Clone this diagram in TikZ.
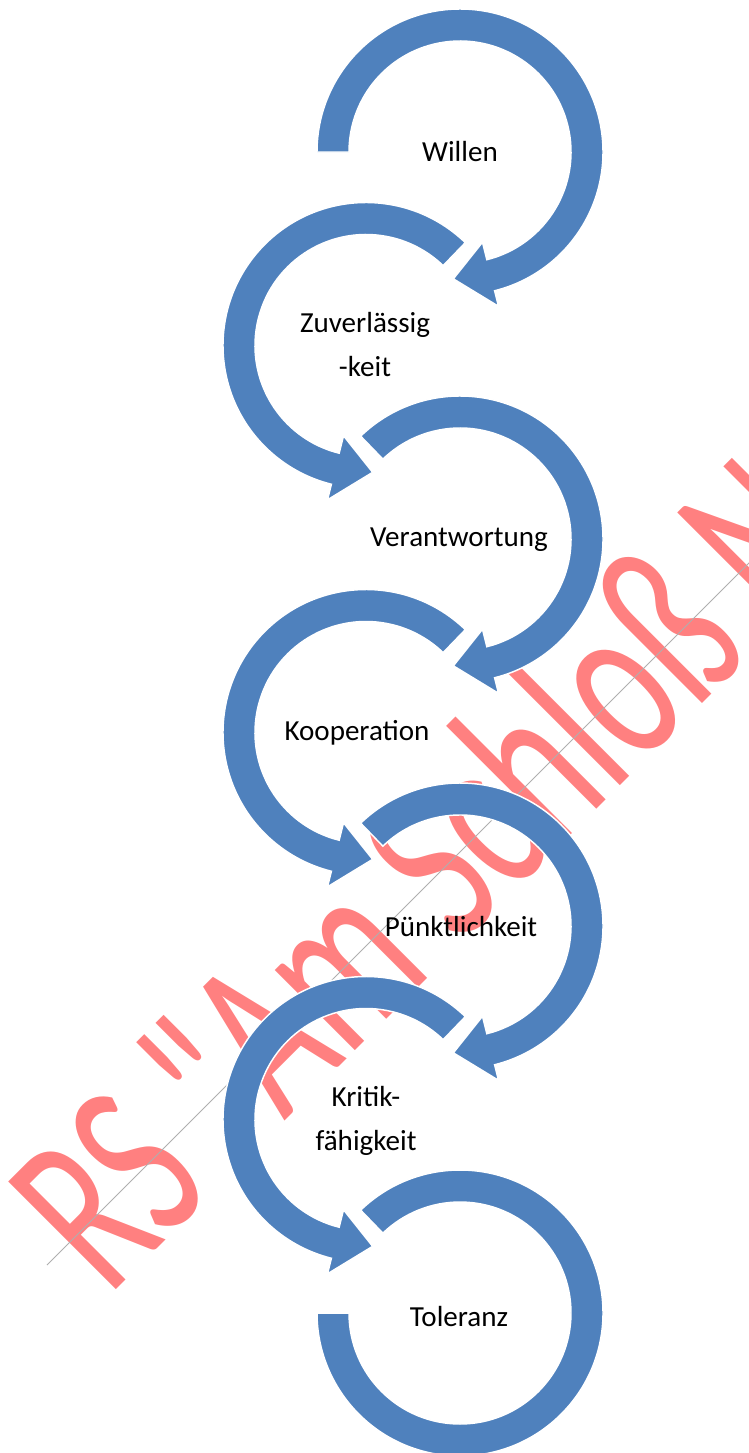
\documentclass[tikz,border=0pt]{standalone}
\usepackage{fontspec}
\setmainfont{Carlito}
\newfontfamily\wmfont{Carlito}
\usepackage{tikz}
\usetikzlibrary{calc}
\definecolor{SABlue}{RGB}{79,129,189}
\definecolor{WMPink}{RGB}{255,128,128}
\definecolor{WMGray}{RGB}{175,175,175}

\begin{document}
\begin{tikzpicture}[x=0.75pt, y=0.75pt,
            ring/.style={fill=SABlue, draw=white, line width=1.1pt, line join=miter},
            lbl/.style={font=\fontsize{21.8}{33}\selectfont, align=center, inner sep=0pt},
            wmtext/.style={font=\wmfont\fontsize{178}{178}\selectfont, text=WMPink,
                           inner sep=0pt, anchor=base west}
          ]
          \useasboundingbox (0,0) rectangle (749,-1453);

          % Watermark behind the diagram
          \begin{scope}
            \clip (0,0) rectangle (749,-1453);
            \begin{scope}[shift={(108,-1298)}, rotate=45, xscale=0.65]
              \node[wmtext, transform shape] (wm) at (0,0) {RS "Am Schloß N};
            \end{scope}
            \coordinate (wmA) at (47,-1265);
            \coordinate (wmB) at (770,-542);
            \draw[WMGray, line width=0.6pt] (wmA) -- (wmB);
          \end{scope}

          % Ring centres
          \foreach \n/\x/\y in {1/460/-152, 2/366/-345.5, 3/460/-539,
                                4/366/-732.5, 5/460/-926, 6/366/-1119.5, 7/460/-1313}{
            \coordinate (c\n) at (\x,\y);
          }

          % Circular arrows
          \foreach \c/\a/\b/\t in {c1/180/-76/-93, c2/46/256/273, c3/134/-76/-93,
                                   c4/46/256/273, c5/134/-76/-93, c6/46/256/273}{
            \draw[ring] ($(\c)+(\a:143)$) arc[start angle=\a, end angle=\b, radius=143]
              -- ($(\c)+(\b:159)$) -- ($(\c)+(\t:127)$) -- ($(\c)+(\b:93)$)
              -- ($(\c)+(\b:111)$) arc[start angle=\b, end angle=\a, radius=111] -- cycle;
          }
          \draw[ring] ($(c7)+(134:143)$) arc[start angle=134, end angle=-180, radius=143]
            -- ($(c7)+(180:111)$) arc[start angle=-180, end angle=134, radius=111] -- cycle;

          \node[lbl] (willen)   at (460,-152)  {Willen};
          \node[lbl] (zuverl)   at (365,-345)  {Zuverlässig\\-keit};
          \node[lbl] (verantw)  at (459,-540)  {Verantwortung};
          \node[lbl] (koop)     at (357,-733)  {Kooperation};
          \node[lbl] (puenktl)  at (461,-927)  {Pünktlichkeit};
          \node[lbl] (kritik)   at (366,-1121) {Kritik-\\fähigkeit};
          \node[lbl] (toleranz) at (459,-1316) {Toleranz};
        \end{tikzpicture}
\end{document}
